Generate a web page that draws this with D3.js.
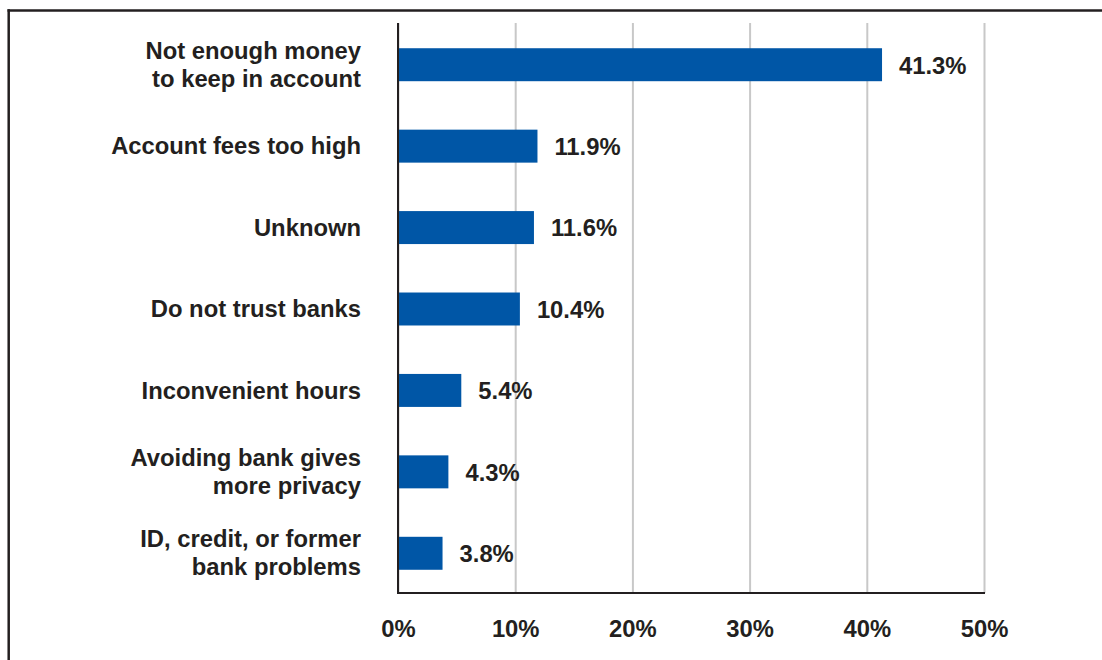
<!DOCTYPE html>
<html>
<head>
<meta charset="utf-8">
<script src="https://cdn.jsdelivr.net/npm/d3@7"></script>
<style>
  html, body { margin: 0; padding: 0; background: #fff; }
  svg { display: block; }
  text { font-family: "Liberation Sans", Arial, Helvetica, sans-serif; font-weight: bold; fill: #231f20; }
</style>
</head>
<body>
<svg id="chart" width="1102" height="660"></svg>
<script>
// ---- data ----
const categories = [
  "Not enough money|to keep in account",
  "Account fees too high",
  "Unknown",
  "Do not trust banks",
  "Inconvenient hours",
  "Avoiding bank gives|more privacy",
  "ID, credit, or former|bank problems"
];
const values = [41.3, 11.9, 11.6, 10.4, 5.4, 4.3, 3.8];
const xTicks = [0, 10, 20, 30, 40, 50];

// ---- layout ----
const svg = d3.select("#chart");
const W = 1102, H = 660;
const plot = { left: 398, right: 984, top: 23, bottom: 593 };
const fontSize = 23.8;
const ink = "#231f20";

// frame (top and left border)
svg.append("line").attr("x1", 7.5).attr("x2", W).attr("y1", 10.5).attr("y2", 10.5)
  .attr("stroke", ink).attr("stroke-width", 2.5);
svg.append("line").attr("x1", 8.7).attr("x2", 8.7).attr("y1", 9.3).attr("y2", H)
  .attr("stroke", ink).attr("stroke-width", 2.5);

const x = d3.scaleLinear().domain([0, 50]).range([plot.left, plot.right]);
const y = d3.scaleBand().domain(categories).range([plot.top + 1, plot.bottom + 1])
  .paddingInner(0.595).paddingOuter(0.595 / 2);

// gridlines
const grid = svg.append("g")
  .attr("transform", `translate(0,${plot.bottom})`)
  .call(d3.axisBottom(x).tickValues(xTicks).tickSize(-(plot.bottom - plot.top)).tickFormat(""));
grid.select(".domain").remove();
grid.selectAll(".tick line").attr("stroke", "#c8c8c8").attr("stroke-width", 2);

// bars
svg.append("g").selectAll("rect").data(values).join("rect")
  .attr("x", x(0))
  .attr("y", (d, i) => y(categories[i]))
  .attr("width", d => x(d) - x(0))
  .attr("height", y.bandwidth())
  .attr("fill", "#0056a6");

// value labels
svg.append("g").selectAll("text").data(values).join("text")
  .attr("x", d => x(d) + 17)
  .attr("y", (d, i) => y(categories[i]) + y.bandwidth() / 2)
  .attr("dy", "0.37em")
  .attr("font-size", fontSize)
  .text(d => d.toFixed(1) + "%");

// axis lines
svg.append("line").attr("x1", x(0)).attr("x2", x(0)).attr("y1", plot.top).attr("y2", plot.bottom + 1)
  .attr("stroke", ink).attr("stroke-width", 2);
svg.append("line").attr("x1", x(0) - 1).attr("x2", x(50) + 1).attr("y1", plot.bottom).attr("y2", plot.bottom)
  .attr("stroke", ink).attr("stroke-width", 2);

// x tick labels
const xAxis = svg.append("g")
  .attr("transform", `translate(0,${plot.bottom})`)
  .call(d3.axisBottom(x).tickValues(xTicks).tickSize(0).tickPadding(0).tickFormat(d => d + "%"));
xAxis.select(".domain").remove();
xAxis.selectAll(".tick text")
  .attr("y", 44).attr("dy", 0)
  .attr("font-size", fontSize)
  .attr("font-family", null)
  .attr("fill", ink);

// category labels
const lineH = 28;
const cat = svg.append("g").selectAll("text").data(categories).join("text")
  .attr("text-anchor", "end")
  .attr("font-size", fontSize)
  .attr("transform", d => `translate(361,${y(d) + y.bandwidth() / 2})`);
cat.each(function(d) {
  const lines = d.split("|");
  const t = d3.select(this);
  const off = -(lines.length - 1) / 2 * lineH;
  lines.forEach((ln, k) => {
    t.append("tspan").attr("x", 0).attr("y", off + k * lineH).attr("dy", "0.34em").text(ln);
  });
});
</script>
</body>
</html>
